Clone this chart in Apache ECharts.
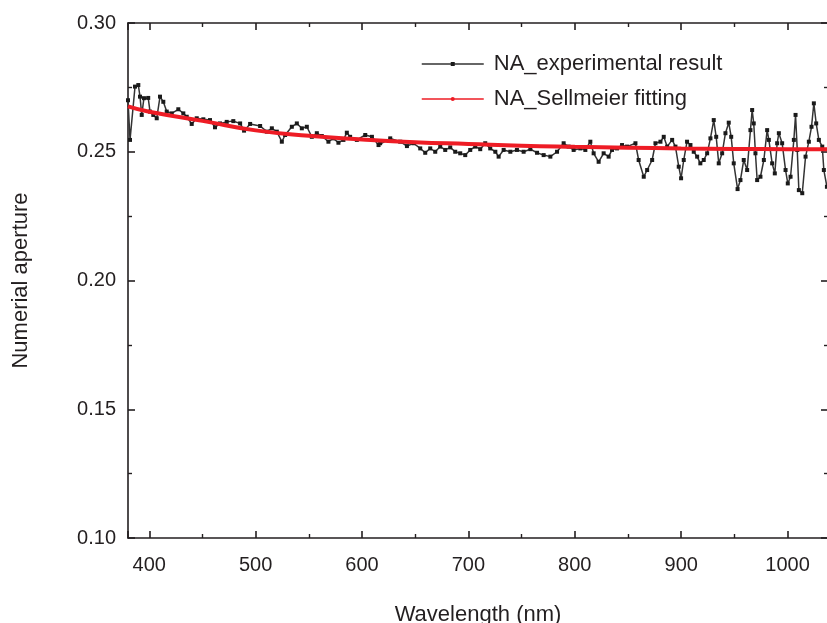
<!DOCTYPE html>
<html>
<head>
<meta charset="utf-8">
<script src="https://cdn.jsdelivr.net/npm/echarts@6/dist/echarts.min.js"></script>
<style>
html,body{margin:0;padding:0;background:#fff;}
#chart{width:827px;height:623px;}
</style>
</head>
<body>
<div id="chart"></div>
<script>
var expWavelength = [380.0,381.9,386.6,389.7,391.3,392.9,395.0,399.0,400.7,403.8,407.0,410.1,413.2,416.4,421.1,427.3,432.0,435.2,439.9,444.6,450.8,457.1,461.8,466.5,472.8,479.0,485.4,489.1,494.8,
504.2,510.5,515.2,519.9,524.6,527.7,534.0,538.7,543.4,548.1,552.8,557.5,562.2,568.4,573.1,577.8,582.5,585.7,588.8,595.1,603.0,609.3,615.5,
617.0,626.5,635.9,642.2,648.4,654.7,659.4,664.1,668.8,673.5,678.2,682.9,687.6,692.3,697.0,701.7,706.4,711.1,715.8,720.5,725.3,728.4,733.1,739.4,
745.6,751.9,758.2,764.5,770.7,777.0,783.3,789.5,794.2,798.9,805.2,809.9,814.6,817.7,822.4,827.1,831.8,835.0,839.7,844.4,849.1,857.0,860.0,
864.8,868.0,872.7,875.8,880.5,883.6,886.8,891.5,894.6,897.7,899.9,902.4,905.5,908.7,911.8,915.0,918.0,921.2,924.4,927.5,930.6,932.9,935.3,938.5,941.6,944.7,947.0,949.4,
953.0,955.7,958.8,962.0,965.1,966.7,968.2,969.8,971.4,974.5,977.7,980.8,982.4,985.5,988.0,990.2,991.8,994.9,998.1,1000.2,1002.8,1005.9,1007.5,1009.1,1010.6,1013.8,1016.9,1020.0,1022.5,1024.7,1026.9,1029.4,1032.6,1034.1,1037.0];
var expNA = [0.2700,0.2546,0.2753,0.2759,0.2714,0.2643,0.2708,0.2709,0.2656,0.2643,0.2630,0.2714,0.2694,0.2656,0.2649,0.2665,0.2649,0.2636,0.2608,0.2630,0.2626,0.2623,0.2595,0.2610,0.2616,0.2619,0.2610,0.2582,0.2608,
0.2600,0.2578,0.2591,0.2578,0.2539,0.2565,0.2597,0.2610,0.2591,0.2597,0.2558,0.2572,0.2561,0.2539,0.2552,0.2535,0.2546,0.2574,0.2558,0.2546,0.2565,0.2558,0.2526,
0.2533,0.2552,0.2539,0.2522,0.2533,0.2513,0.2496,0.2513,0.2500,0.2520,0.2507,0.2517,0.2500,0.2494,0.2487,0.2507,0.2520,0.2510,0.2533,0.2513,0.2500,0.2481,0.2507,0.2500,
0.2507,0.2500,0.2510,0.2496,0.2487,0.2481,0.2500,0.2533,0.2520,0.2507,0.2513,0.2507,0.2539,0.2494,0.2461,0.2494,0.2481,0.2507,0.2513,0.2526,0.2520,0.2533,0.2468,
0.2403,0.2429,0.2468,0.2533,0.2539,0.2558,0.2520,0.2546,0.2520,0.2442,0.2397,0.2468,0.2539,0.2526,0.2500,0.2481,0.2455,0.2468,0.2494,0.2552,0.2623,0.2558,0.2455,0.2494,0.2572,0.2613,0.2558,0.2455,
0.2355,0.2390,0.2468,0.2429,0.2584,0.2662,0.2610,0.2494,0.2390,0.2403,0.2468,0.2584,0.2546,0.2455,0.2416,0.2533,0.2572,0.2533,0.2429,0.2377,0.2403,0.2546,0.2643,0.2507,0.2351,0.2339,0.2481,0.2539,0.2597,0.2688,0.2610,0.2546,0.2520,0.2429,0.2364];

var fitWavelength = [380,400,450,500,550,600,650,700,750,800,850,900,950,1000,1038];
var fitNA = [0.2676,0.2655,0.2620,0.2583,0.2562,0.2548,0.2537,0.2530,0.2523,0.2519,0.2516,0.2513,0.2511,0.2510,0.2510];

var seriesNames = ['NA_experimental result','NA_Sellmeier fitting'];
var xName = 'Wavelength (nm)';
var yName = 'Numerial aperture';

function pairs(xs, ys){ return xs.map(function(x,i){ return [x, ys[i]]; }); }

var FONT = '"Liberation Sans", Arial, Helvetica, sans-serif';
var AX = '#231f20';

var chart = echarts.init(document.getElementById('chart'), null, {renderer:'canvas'});
var axisLine = {show:true, onZero:false, lineStyle:{color:AX, width:1.6}};
var option = {
  backgroundColor:'#ffffff',
  animation:false,
  grid:{left:128, top:23, width:700, height:515, containLabel:false, outerBoundsMode:'none'},
  legend:{
    orient:'vertical', left:416, top:48, itemWidth:62, itemHeight:5, itemGap:13,
    lineStyle:{width:1.5},
    textStyle:{fontFamily:FONT, fontSize:22, color:AX, padding:[0,0,0,5]},
    data:seriesNames
  },
  xAxis:[{
    type:'value', min:380, max:1038, position:'bottom',
    name:xName, nameLocation:'middle', nameGap:66,
    nameTextStyle:{fontFamily:FONT, fontSize:22, color:AX},
    axisLine:axisLine,
    axisTick:{show:true, inside:true, length:7, lineStyle:{color:AX, width:1.6}},
    minorTick:{show:true, splitNumber:2, length:4, lineStyle:{color:AX, width:1.4}},
    axisLabel:{fontFamily:FONT, fontSize:20, color:AX, margin:17, showMinLabel:false, showMaxLabel:false,
      formatter:function(v){return String(v);}},
    splitLine:{show:false}
  },{
    type:'value', min:380, max:1038, position:'top',
    axisLine:axisLine,
    axisTick:{show:true, inside:true, length:7, lineStyle:{color:AX, width:1.6}},
    minorTick:{show:true, splitNumber:2, length:4, lineStyle:{color:AX, width:1.4}},
    axisLabel:{show:false}, splitLine:{show:false}
  }],
  yAxis:[{
    type:'value', min:0.10, max:0.30, interval:0.05, position:'left',
    name:yName, nameLocation:'middle', nameGap:96, nameRotate:90,
    nameTextStyle:{fontFamily:FONT, fontSize:22, color:AX},
    axisLine:axisLine,
    axisTick:{show:true, inside:true, length:7, lineStyle:{color:AX, width:1.6}},
    minorTick:{show:true, splitNumber:2, length:4, lineStyle:{color:AX, width:1.4}},
    axisLabel:{fontFamily:FONT, fontSize:20, color:AX, margin:12, formatter:function(v){return v.toFixed(2);}},
    splitLine:{show:false}
  },{
    type:'value', min:0.10, max:0.30, interval:0.05, position:'right',
    axisLine:axisLine,
    axisTick:{show:true, inside:true, length:7, lineStyle:{color:AX, width:1.6}},
    minorTick:{show:true, splitNumber:2, length:4, lineStyle:{color:AX, width:1.4}},
    axisLabel:{show:false}, splitLine:{show:false}
  }],
  series:[{
    name:seriesNames[0], type:'line', xAxisIndex:0, yAxisIndex:0,
    data:pairs(expWavelength, expNA),
    symbol:'rect', symbolSize:4, showSymbol:true,
    itemStyle:{color:'#1a1a1a'},
    lineStyle:{color:'#333333', width:1.5},
    z:2
  },{
    name:seriesNames[1], type:'line', xAxisIndex:0, yAxisIndex:0,
    data:pairs(fitWavelength, fitNA),
    smooth:true, symbol:'circle', symbolSize:3, showSymbol:false,
    itemStyle:{color:'#ee1c25'},
    lineStyle:{color:'#ee1c25', width:4},
    z:3
  }]
};
chart.setOption(option);
</script>
</body>
</html>
